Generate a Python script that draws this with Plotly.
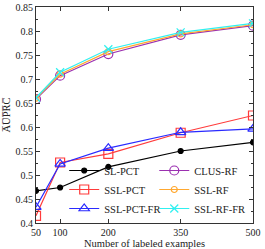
import plotly.graph_objects as go

x_labeled = [50, 100, 200, 350, 500]
sl_pct = [0.467, 0.474, 0.517, 0.550, 0.568]
ssl_pct = [0.415, 0.526, 0.544, 0.588, 0.624]
ssl_pct_fr = [0.433, 0.523, 0.556, 0.589, 0.596]
clus_rf = [0.658, 0.707, 0.752, 0.792, 0.811]
ssl_rf = [0.660, 0.710, 0.757, 0.794, 0.813]
ssl_rf_fr = [0.661, 0.714, 0.762, 0.797, 0.816]

x_ticks = [50, 100, 200, 350, 500]
y_ticks = [0.4, 0.45, 0.5, 0.55, 0.6, 0.65, 0.7, 0.75, 0.8, 0.85]

FONT = "Liberation Serif, DejaVu Serif, serif"

series = [
    ("SL-PCT", sl_pct, "#000000", "circle", 5, "legend"),
    ("SSL-PCT", ssl_pct, "#ff3b3b", "square-open", 9, "legend"),
    ("SSL-PCT-FR", ssl_pct_fr, "#2a2aff", "triangle-up-open", 9, "legend"),
    ("CLUS-RF", clus_rf, "#9b30b0", "circle-open", 9, "legend2"),
    ("SSL-RF", ssl_rf, "#ffa830", "circle-open", 6, "legend2"),
    ("SSL-RF-FR", ssl_rf_fr, "#30f0f0", "x-thin-open", 8, "legend2"),
]

fig = go.Figure()
for name, vals, color, sym, size, leg in series:
    fig.add_trace(go.Scatter(
        x=x_labeled, y=vals, name=name, mode="lines+markers",
        line=dict(color=color, width=1.2),
        marker=dict(symbol=sym, size=size, color=color,
                    line=dict(color=color, width=1.2)),
        legend=leg,
    ))

axis_common = dict(
    showline=True, linecolor="#333", linewidth=1, mirror="ticks",
    ticks="inside", ticklen=4, tickcolor="#333", showgrid=False,
    zeroline=False, automargin=False,
    tickfont=dict(family=FONT, size=10, color="#222"),
)

leg_common = dict(
    yanchor="bottom", xanchor="left", bgcolor="rgba(0,0,0,0)",
    font=dict(family=FONT, size=10.5, color="#222"),
    tracegroupgap=0, itemwidth=30, borderwidth=0,
)

fig.update_layout(
    width=265, height=249,
    margin=dict(l=36, r=12, t=7, b=26, autoexpand=False),
    paper_bgcolor="white", plot_bgcolor="white",
    font=dict(family=FONT, size=10, color="#222"),
    xaxis=dict(range=[50, 500], tickvals=x_ticks,
               ticktext=[str(v) for v in x_ticks],
               title=dict(text="Number of labeled examples", standoff=0,
                          font=dict(family=FONT, size=10.5)),
               **axis_common),
    yaxis=dict(range=[0.4, 0.85], tickvals=y_ticks,
               ticktext=[f"{v:g}" for v in y_ticks],
               minor=dict(ticks="inside", ticklen=2, dtick=0.025, tickcolor="#333"),
               title=dict(text="A\u0305U\u0305P\u0305R\u0305C\u0305", standoff=2,
                          font=dict(family=FONT, size=10.5)),
               **axis_common),
    legend=dict(x=0.13, y=0.0, **leg_common),
    legend2=dict(x=0.545, y=0.0, **leg_common),
)

fig.write_html("out.html", config={"displayModeBar": False},
               post_script="document.body.style.margin='0';")
